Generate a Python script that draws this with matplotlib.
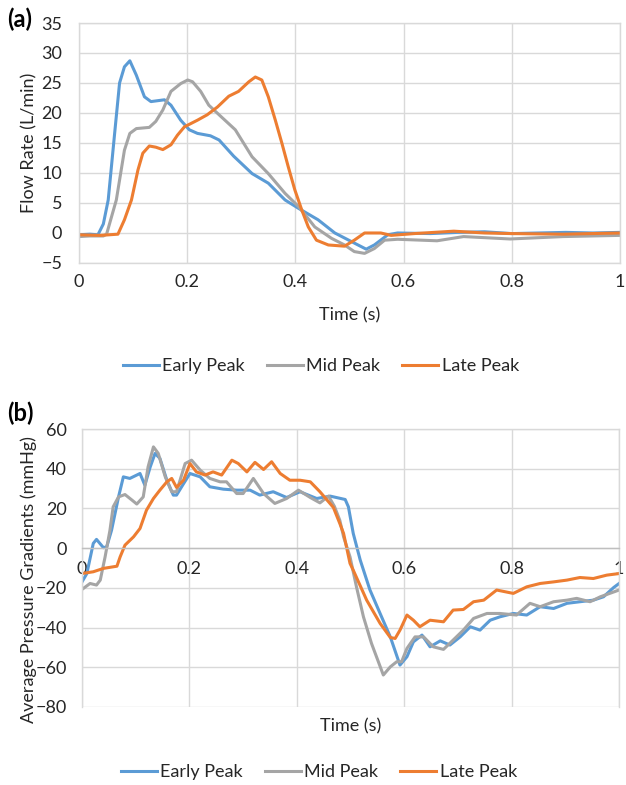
import matplotlib
matplotlib.use('Agg')
import matplotlib.pyplot as plt

plt.rcParams['font.family'] = ['Lato', 'DejaVu Sans']

# (a) flow rate, L/min
flow_t_early = [0, 0.02, 0.035, 0.045, 0.054, 0.066, 0.075, 0.084, 0.094, 0.106, 0.121, 0.133, 0.158, 0.170,
                0.188, 0.204, 0.219, 0.243, 0.259, 0.286, 0.320, 0.350, 0.381, 0.406, 0.442, 0.473, 0.503,
                0.531, 0.546, 0.571, 0.589, 0.65, 0.70, 0.75, 0.80, 0.85, 0.90, 0.95, 1.0]
flow_early = [-0.3, -0.2, -0.3, 1.5, 5.5, 16.7, 25.0, 27.7, 28.7, 26.3, 22.7, 21.9, 22.2, 21.3,
              18.8, 17.2, 16.6, 16.2, 15.5, 12.8, 9.9, 8.3, 5.5, 4.1, 2.2, 0.0, -1.4,
              -2.7, -2.0, -0.3, 0.0, -0.1, 0.1, 0.2, -0.1, 0.0, 0.1, 0.0, 0.1]

flow_t_mid = [0, 0.02, 0.045, 0.051, 0.069, 0.084, 0.094, 0.106, 0.130, 0.142, 0.155, 0.170, 0.188, 0.201,
              0.210, 0.225, 0.240, 0.259, 0.289, 0.320, 0.350, 0.381, 0.406, 0.436, 0.467, 0.491, 0.509,
              0.528, 0.546, 0.565, 0.589, 0.662, 0.711, 0.797, 0.895, 1.0]
flow_mid = [-0.6, -0.5, -0.5, -0.2, 5.5, 13.8, 16.6, 17.4, 17.6, 18.6, 20.5, 23.6, 24.9, 25.5,
            25.2, 23.6, 21.3, 19.7, 17.2, 12.7, 9.9, 6.6, 4.4, 1.0, -0.9, -2.0, -3.1,
            -3.4, -2.6, -1.2, -1.05, -1.3, -0.6, -1.0, -0.6, -0.4]

flow_t_late = [0, 0.04, 0.072, 0.084, 0.097, 0.109, 0.118, 0.130, 0.142, 0.155, 0.170, 0.182, 0.195, 0.219,
               0.237, 0.256, 0.277, 0.295, 0.314, 0.326, 0.338, 0.350, 0.363, 0.375, 0.387, 0.399, 0.412,
               0.424, 0.439, 0.461, 0.491, 0.509, 0.528, 0.558, 0.577, 0.62, 0.693, 0.75, 0.80, 0.895, 1.0]
flow_late = [-0.3, -0.4, -0.2, 2.2, 5.5, 10.5, 13.3, 14.5, 14.3, 13.9, 14.7, 16.3, 17.7, 18.8,
             19.7, 21.0, 22.8, 23.6, 25.2, 26.0, 25.5, 22.7, 18.8, 15.0, 11.0, 7.2, 3.8,
             1.0, -1.2, -2.0, -2.2, -1.2, 0.0, 0.0, -0.4, -0.1, 0.3, 0.0, -0.1, -0.2, 0.0]

# (b) average pressure gradient, mmHg
pg_t_early = [0, 0.009, 0.021, 0.027, 0.040, 0.046, 0.055, 0.068, 0.077, 0.089, 0.108, 0.117, 0.127, 0.136,
              0.145, 0.158, 0.170, 0.176, 0.188, 0.201, 0.220, 0.238, 0.263, 0.288, 0.313, 0.331, 0.356,
              0.381, 0.406, 0.437, 0.462, 0.490, 0.496, 0.505, 0.518, 0.536, 0.555, 0.574, 0.592, 0.605,
              0.617, 0.633, 0.648, 0.667, 0.685, 0.704, 0.723, 0.741, 0.760, 0.778, 0.803, 0.828, 0.853,
              0.878, 0.903, 0.927, 0.952, 0.971, 0.990, 1.0]
pg_early = [-17.0, -12.8, 2.4, 4.4, 0.2, 0.7, 9.0, 25.8, 35.9, 35.1, 37.6, 31.7, 40.9, 47.7,
            45.2, 34.2, 26.7, 26.7, 32.0, 37.6, 35.9, 30.9, 29.7, 29.2, 29.2, 26.7, 28.4,
            25.5, 28.4, 25.0, 26.2, 24.5, 20.8, 7.4, -6.0, -21.0, -32.9, -44.7, -58.9, -54.7,
            -47.2, -43.8, -49.7, -46.7, -48.8, -44.7, -39.6, -41.3, -36.3, -34.6, -32.9, -33.7, -29.5,
            -30.4, -27.8, -27.0, -26.2, -24.5, -19.8, -17.8]

pg_t_mid = [0, 0.015, 0.027, 0.034, 0.043, 0.052, 0.058, 0.068, 0.080, 0.093, 0.102, 0.114, 0.123, 0.133,
            0.142, 0.155, 0.167, 0.176, 0.192, 0.204, 0.220, 0.238, 0.257, 0.269, 0.288, 0.300, 0.319,
            0.338, 0.359, 0.381, 0.403, 0.425, 0.443, 0.459, 0.470, 0.480, 0.487, 0.499, 0.511, 0.524,
            0.539, 0.561, 0.574, 0.586, 0.595, 0.605, 0.620, 0.636, 0.654, 0.673, 0.691, 0.710, 0.729,
            0.754, 0.778, 0.809, 0.834, 0.853, 0.878, 0.903, 0.921, 0.946, 0.965, 1.0]
pg_mid = [-20.8, -17.8, -18.6, -16.1, -4.4, 9.0, 20.8, 25.8, 27.0, 24.2, 22.2, 25.8, 40.9, 51.0,
          47.7, 35.9, 28.4, 28.4, 42.6, 44.3, 39.3, 35.1, 33.4, 33.4, 27.5, 27.5, 35.1,
          27.5, 22.5, 25.0, 29.2, 25.5, 22.8, 26.2, 21.0, 14.0, 5.7, -4.4, -19.5, -34.6,
          -48.0, -63.9, -59.8, -57.2, -57.2, -50.5, -44.7, -44.7, -49.7, -51.0, -46.3, -41.3, -35.4,
          -32.9, -32.9, -33.7, -27.8, -29.5, -27.0, -26.2, -25.3, -27.0, -24.5, -21.1]

pg_t_late = [0, 0.021, 0.040, 0.065, 0.071, 0.080, 0.096, 0.108, 0.120, 0.133, 0.145, 0.158, 0.167, 0.176,
             0.189, 0.201, 0.213, 0.229, 0.244, 0.260, 0.279, 0.291, 0.307, 0.322, 0.338, 0.353, 0.369,
             0.387, 0.406, 0.425, 0.443, 0.468, 0.480, 0.487, 0.499, 0.505, 0.530, 0.555, 0.574, 0.583,
             0.592, 0.605, 0.617, 0.629, 0.648, 0.673, 0.691, 0.710, 0.729, 0.748, 0.772, 0.803, 0.828,
             0.853, 0.878, 0.903, 0.927, 0.952, 0.977, 1.0]
pg_late = [-12.8, -11.9, -10.2, -9.1, -4.4, 1.5, 5.7, 9.9, 19.1, 25.0, 29.2, 33.4, 35.1, 30.6,
           34.2, 42.6, 38.4, 36.8, 38.4, 36.8, 44.3, 42.6, 38.4, 43.2, 39.6, 43.5, 37.6,
           34.2, 34.2, 33.4, 28.4, 20.5, 12.4, 7.4, -7.7, -11.1, -26.2, -37.9, -45.0, -45.5,
           -41.3, -33.7, -36.3, -39.6, -36.3, -37.1, -31.2, -30.9, -27.0, -26.2, -21.1, -22.8, -19.5,
           -17.8, -17.0, -16.1, -14.8, -15.3, -13.6, -12.8]

labels = ['Early Peak', 'Mid Peak', 'Late Peak']
colors = ['#5B9BD5', '#A5A5A5', '#ED7D31']
grid_c = '#d9d9d9'
text_c = '#262626'
fs = 13

fig = plt.figure(figsize=(6.26, 7.85), dpi=100)
ax1 = fig.add_axes([0.1262, 0.665, 0.864, 0.3057])
ax2 = fig.add_axes([0.131, 0.0994, 0.858, 0.3541])

def style(ax):
    ax.grid(True, color=grid_c, lw=1)
    ax.set_axisbelow(True)
    for s in ax.spines.values():
        s.set_color(grid_c)
        s.set_linewidth(1)
    ax.tick_params(length=0, labelsize=fs, colors=text_c)
    ax.set_xlim(0, 1)
    ax.set_xticks([0, 0.2, 0.4, 0.6, 0.8, 1])
    ax.set_xticklabels(['0', '0.2', '0.4', '0.6', '0.8', '1'])

def add_legend(ax, x, y):
    ax.legend(loc='center', bbox_to_anchor=(x, y), ncol=3, frameon=False, fontsize=fs,
              handlelength=2.0, handletextpad=0.2, columnspacing=1.2,
              labelcolor=text_c)

# (a)
for t, v, lab, c in zip([flow_t_early, flow_t_mid, flow_t_late], [flow_early, flow_mid, flow_late],
                        labels, colors):
    ax1.plot(t, v, color=c, lw=2.2, label=lab)
style(ax1)
ax1.set_ylim(-5, 35)
ax1.set_yticks(range(-5, 36, 5))
ax1.tick_params(axis='y', pad=12)
ax1.tick_params(axis='x', pad=8)
ax1.set_ylabel('Flow Rate (L/min)', fontsize=fs, color=text_c)
ax1.yaxis.set_label_coords(-0.077, 0.5)
ax1.set_xlabel('Time (s)', fontsize=fs, color=text_c)
ax1.xaxis.set_label_coords(0.5, -0.185)
add_legend(ax1, 0.447, -0.43)
fig.text(0.011, 0.975, '(a)', fontsize=17, fontweight='bold', va='center')

# (b)
for t, v, lab, c in zip([pg_t_early, pg_t_mid, pg_t_late], [pg_early, pg_mid, pg_late],
                        labels, colors):
    ax2.plot(t, v, color=c, lw=2.2, label=lab)
style(ax2)
ax2.set_ylim(-80, 60)
ax2.set_yticks(range(-80, 61, 20))
ax2.spines['bottom'].set_position(('data', 0))
ax2.spines['bottom'].set_color('#bfbfbf')
ax2.tick_params(axis='y', pad=11)
ax2.tick_params(axis='x', pad=9)
ax2.set_ylabel('Average Pressure Gradients (mmHg)', fontsize=fs, color=text_c)
ax2.yaxis.set_label_coords(-0.084, 0.46)
ax2.set_xlabel('Time (s)', fontsize=fs, color=text_c)
ax2.xaxis.set_label_coords(0.5, -0.04)
add_legend(ax2, 0.441, -0.234)
fig.text(0.011, 0.474, '(b)', fontsize=17, fontweight='bold', va='center')

fig.savefig('out.png', dpi=100)
